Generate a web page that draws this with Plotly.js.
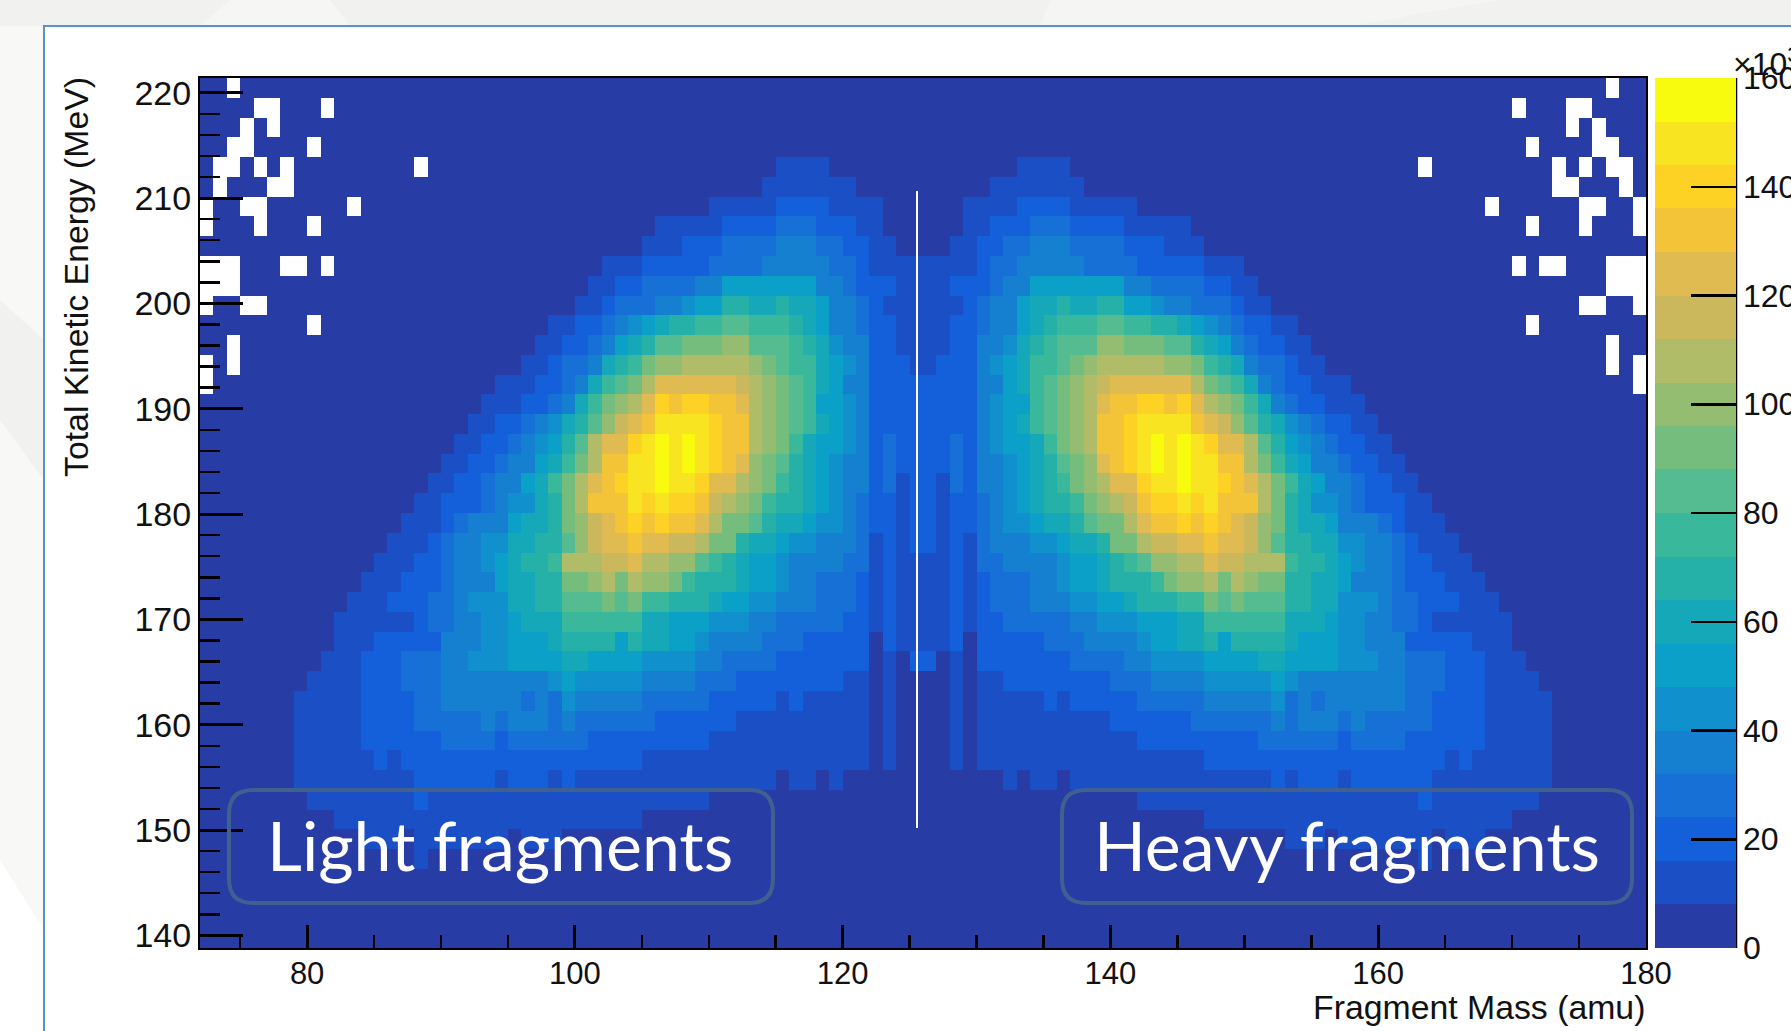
<!DOCTYPE html>
<html><head><meta charset="utf-8">
<script src="https://cdn.plot.ly/plotly-3.0.1.min.js"></script>
<style>html,body{margin:0;padding:0;background:#f6f6f4;overflow:hidden;width:1791px;height:1031px}#c{width:2000px;height:1031px}</style>
</head><body><div id="c"></div>
<script>
// Colour band of each cell (0-9,a-j = band 0..19, '.' = empty bin),
// top row first, light-fragment half (A = 72..125); the heavy half is its mirror image (A' = 252 - A).
const lightHalfRows = [
"00.0000000 0000000000 0000000000 0000000000 0000000000 0000",
"0000..000. 0000000000 0000000000 0000000000 0000000000 0000",
"000.0.0000 0000000000 0000000000 0000000000 0000000000 0000",
"00..0000.0 0000000000 0000000000 0000000000 0000000000 0000",
"0..0.0.000 000000.000 0000000000 0000000000 0001111000 0000",
"0.000..000 0000000000 0000000000 0000000000 0011111110 0000",
".00..00000 0.00000000 0000000000 0000000011 1112222111 1000",
".000.000.0 0000000000 0000000000 0000111112 2223332221 1000",
"0000000000 0000000000 0000000000 0001112223 3334443322 1100",
"...000..0. 0000000000 0000000000 1112222233 3344444332 1111",
"...0000000 0000000000 0000000001 1223333446 6666664432 2211",
".00..00000 0000000000 0000000011 2333445668 8778776443 2111",
"00000000.0 0000000000 0000001122 345678899a a999876443 2211",
"00.0000000 0000000000 0000011223 4678aabbbc caaa987544 2211",
".0.0000000 0000000000 0000112334 789bccdddd dcba997654 2221",
".000000000 0000000000 0011122347 9abdffffff edcba97644 2222",
"0000000000 0000000000 0111223479 bcdfhghhgg fdcba96654 2222",
"0000000000 0000000000 112234578a cefgiiiihg gdcba97654 2222",
"0000000000 0000000001 12234568ad ffhijijihg gdcb976654 2322",
"0000000000 0000000011 22344679bd ggiijijihg fcba876544 2322",
"0000000000 0000000112 2344679bdf ghiijiihff dcb9876544 2312",
"0000000000 0000001122 2345578bdg ggihihhged cb98876543 2212",
"0000000000 0000011123 4446778bce fghghggfdb ba87765543 2212",
"0000000000 0000111234 4557788ace ffgffeedbb 8776554443 1212",
"0000000000 0001112234 4567889ddd eefddcca98 7665444433 1211",
"0000000000 0011122234 4467788bbc dbdccb9888 7665443332 1211",
"0000000000 0111222334 5557788aaa bab9988876 6554443332 1211",
"0000000000 1111112334 4556777999 9997766655 5443333322 1211",
"0000000000 1112222244 4556667888 8687766544 4433322222 0211",
"0000000001 1122233344 5556666776 6665555443 3332222222 0102",
"0000000011 1122233344 4444445655 5554444333 2222222211 0100",
"0000000111 1122223344 4444343544 4443333322 2221211111 0100",
"0000000111 1122223333 3434443433 3333222222 1111111111 0100",
"0000000111 1122222233 3323333332 2222222211 1111111111 0100",
"0000000111 1112122222 2222222222 2221111111 1111111111 0100",
"0000000111 1111112222 2212221211 1111111111 1110110100 0000",
"0000000011 1111112111 1111111111 1111111100 0000000000 0000",
"0000000000 1111111111 1111111111 1110000000 0000000000 0000",
"0000000000 0011101111 1110111000 0000000000 0000000000 0000",
"0000000000 0000001000 0000000000 0000000000 0000000000 0000",
"0000000000 0000000000 0000000000 0000000000 0000000000 0000",
"0000000000 0000000000 0000000000 0000000000 0000000000 0000",
"0000000000 0000000000 0000000000 0000000000 0000000000 0000",
"0000000000 0000000000 0000000000 0000000000 0000000000 0000"
];
const bandColors = ["#283ca5","#1a4fc5","#1460db","#1670d5","#1580cf","#1090cc","#0ba0c8","#15a8b8",
 "#25b0a8","#3ab89c","#55bb90","#75bd7c","#94bd72","#b0bc68","#ccb85c","#dfbb52","#f3c437","#fed125","#f8e420","#f9fb0e"];
const bandWidth = 8;              // counts (x10^3) per colour band
const massEdgeLow = 72, massBin = 1;
const tkeEdgeLow = 138.8, tkeEdgeHigh = 221.4, tkeBins = 44;
const xTitle = "Fragment Mass (amu)", yTitle = "Total Kinetic Energy (MeV)";
const labelLight = "Light fragments", labelHeavy = "Heavy fragments";

const cellValue = ch => ch === "." ? null : (parseInt(ch, 36) + 0.5) * bandWidth;
const zTopFirst = lightHalfRows.map(r => {
  const half = Array.from(r.replace(/ /g, "")).map(cellValue);
  return half.concat(half.slice().reverse());
});
const z = zTopFirst.slice().reverse();
const dy = (tkeEdgeHigh - tkeEdgeLow) / tkeBins;

const scale = [];
bandColors.forEach((c, i) => { scale.push([i / 20, c]); scale.push([(i + 1) / 20, c]); });

// page geometry helpers (pixels -> paper fractions)
const W = 2000, L = 200, R = 1646, T = 78, B = 948;
const px = x => (x - L) / (R - L), py = y => (B - y) / (B - T);
function rrect(x0, y0, x1, y1, r) {
  const P = (x, y) => px(x).toFixed(5) + "," + py(y).toFixed(5);
  return "M" + P(x0 + r, y0) + " L" + P(x1 - r, y0) + " Q" + P(x1, y0) + " " + P(x1, y0 + r) +
    " L" + P(x1, y1 - r) + " Q" + P(x1, y1) + " " + P(x1 - r, y1) +
    " L" + P(x0 + r, y1) + " Q" + P(x0, y1) + " " + P(x0, y1 - r) +
    " L" + P(x0, y0 + r) + " Q" + P(x0, y0) + " " + P(x0 + r, y0) + " Z";
}
function poly(pts, color) {
  return {type: "path", xref: "paper", yref: "paper", layer: "below", line: {width: 0}, fillcolor: color,
    path: "M" + pts.map(p => px(p[0]).toFixed(5) + "," + py(p[1]).toFixed(5)).join(" L") + " Z"};
}
const boxStyle = {color: "#3f6190", width: 4};
const shapes = [
  poly([[0,0],[2000,0],[2000,26],[0,26]], "#f1f1ef"),
  poly([[230,0],[330,0],[350,26],[200,26]], "#f6f6f4"),
  poly([[1050,0],[1500,0],[1350,26],[1040,26]], "#f5f5f3"),
  poly([[0,300],[44,340],[44,480],[0,420]], "#f1f1ef"),
  poly([[0,860],[44,930],[44,1031],[0,1031]], "#ffffff"),
  {type: "rect", xref: "paper", yref: "paper", layer: "below", x0: px(44), x1: px(2100), y0: py(26), y1: py(1040),
    fillcolor: "#ffffff", line: {color: "#5b90cf", width: 2}},
  {type: "line", xref: "paper", yref: "paper", x0: px(1736), x1: px(1736), y0: 0, y1: 1, line: {color: "#000", width: 2.5}},
  {type: "line", xref: "paper", yref: "paper", x0: px(917), x1: px(917), y0: py(191), y1: py(828), line: {color: "#fff", width: 2}},
  {type: "path", xref: "paper", yref: "paper", path: rrect(229, 790, 773, 903, 24), line: boxStyle},
  {type: "path", xref: "paper", yref: "paper", path: rrect(1062, 790, 1632, 903, 24), line: boxStyle}
];
const note = (text, x, y, size, color, family, extra) => Object.assign({
  text, xref: "paper", yref: "paper", x: px(x), y: py(y), showarrow: false,
  font: {size, color, family}
}, extra || {});
const sans = "Liberation Sans, Arial, sans-serif";
const annotations = [
  note(xTitle, 1647, 1007, 33.8, "#111", sans, {xanchor: "right", yanchor: "middle"}),
  note(yTitle, 76, 277, 33.8, "#111", sans, {textangle: -90, xanchor: "center", yanchor: "middle"}),
  note(labelLight, 500, 844, 68, "#ffffff", "Lato, sans-serif", {xanchor: "center", yanchor: "middle"}),
  note(labelHeavy, 1347, 844, 68, "#ffffff", "Lato, sans-serif", {xanchor: "center", yanchor: "middle"}),
  note("×10<sup>3</sup>", 1731, 62, 32, "#111", sans, {xanchor: "left", yanchor: "middle"})
];
const axisBase = {showgrid: false, zeroline: false, showline: true, linecolor: "#000", linewidth: 2, mirror: true,
  ticks: "inside", tickcolor: "#000", tickwidth: 3, automargin: false};
Plotly.newPlot("c", [{
  type: "heatmap", z, x0: massEdgeLow + massBin / 2, dx: massBin, y0: tkeEdgeLow + dy / 2, dy,
  zmin: 0, zmax: 160, zsmooth: false, colorscale: scale, hoverongaps: false,
  colorbar: {x: px(1655), xref: "paper", xanchor: "left", y: 0, yanchor: "bottom", len: 1, lenmode: "fraction",
    thickness: 81, thicknessmode: "pixels", xpad: 0, ypad: 0, outlinewidth: 0,
    tick0: 0, dtick: 20, ticks: "inside", ticklen: 45, tickwidth: 2.5, tickcolor: "#000",
    tickfont: {family: sans, size: 32, color: "#111"}}
}], {
  width: W, height: 1031, margin: {l: L, r: W - R, t: T, b: 1031 - B, pad: 0},
  paper_bgcolor: "#f8f8f6", plot_bgcolor: "#ffffff", showlegend: false,
  font: {family: sans},
  xaxis: Object.assign({}, axisBase, {range: [72, 180], tick0: 0, dtick: 20, ticklen: 23, ticklabelstandoff: -3,
    tickfont: {family: sans, size: 31, color: "#111"},
    minor: {tick0: 0, dtick: 5, ticks: "inside", ticklen: 13, tickwidth: 2.5, tickcolor: "#000", showgrid: false}}),
  yaxis: Object.assign({}, axisBase, {range: [tkeEdgeLow, tkeEdgeHigh], tick0: 0, dtick: 10, ticklen: 43,
    tickfont: {family: sans, size: 34, color: "#111"},
    minor: {tick0: 0, dtick: 2, ticks: "inside", ticklen: 20, tickwidth: 2.5, tickcolor: "#000", showgrid: false}}),
  shapes, annotations
}, {displayModeBar: false, staticPlot: true});
</script></body></html>
